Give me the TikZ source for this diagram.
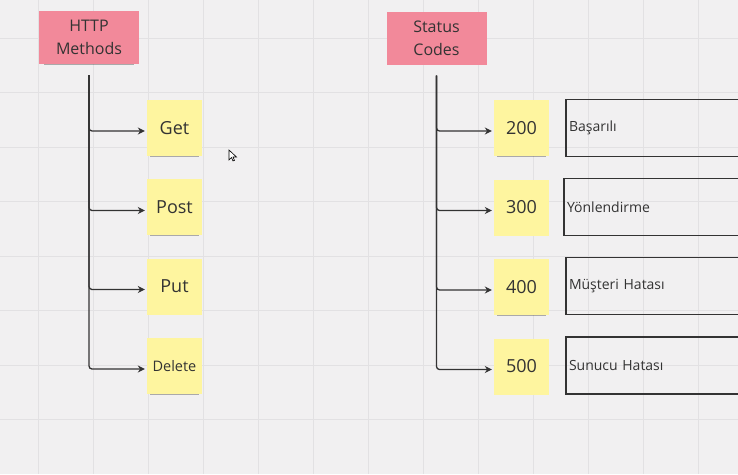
\documentclass[tikz,border=0pt]{standalone}
\usepackage{fontspec}
\setmainfont{Open Sans}
\usepackage{tikz}
\usetikzlibrary{arrows.meta,shadows,positioning}
\definecolor{board}{HTML}{F1F0F1}
\definecolor{gridline}{HTML}{E2E1E3}
\definecolor{notepink}{HTML}{F2899A}
\definecolor{noteyellow}{HTML}{FEF59F}
\definecolor{ink}{HTML}{333333}
\tikzset{
	>={Stealth[length=7pt,width=7pt]},
	sticky/.style={
		fill=noteyellow,
		text=ink,
		minimum width=55pt,
		minimum height=56pt,
		inner sep=0pt,
		font=\fontsize{18}{22}\selectfont,
		drop shadow={shadow xshift=0pt,shadow yshift=-4pt,shadow scale=0.9,
			fill=black!85,opacity=0.35}
	},
	header/.style={
		sticky,
		fill=notepink,
		minimum width=100pt,
		minimum height=53pt,
		align=center,
		font=\fontsize{16}{23}\selectfont
	}
}

\begin{document}
\begin{tikzpicture}[x=1pt,y=-1pt]
  \tikzset{
    descbox/.style={draw=ink, line width=1.1pt, minimum height=57pt,
          text width=194pt, inner xsep=3pt, align=left, text=ink,
          font=\fontsize{14}{17}\selectfont},
    conn/.style={draw=ink, line width=1.3pt, ->, rounded corners=3pt,
          shorten >=2pt}
  }
  \clip (0,0) rectangle (738,474);
  \fill[board] (0,0) rectangle (738,474);
  \foreach \gx in {38,93,...,698}
    \draw[gridline,line width=0.8pt] (\gx,0) -- (\gx,474);
  \foreach \gy in {38,92.5,...,420}
    \draw[gridline,line width=0.8pt] (0,\gy) -- (738,\gy);

  \node[header] (http) at (89,37.5) {HTTP\\Methods};
  \node[header] (status) at (436.5,38) {Status\\Codes};

  \node[sticky] (get) at (174.5,128) {Get};
  \node[sticky] (post) at (174.5,207) {Post};
  \node[sticky] (put) at (174.5,286.5) {Put};
  \node[sticky,font=\fontsize{14.5}{17}\selectfont] (delete) at (174.5,366) {Delete};

  \node[sticky] (c200) at (521.5,128) {200};
  \node[sticky] (c300) at (521.5,207.5) {300};
  \node[sticky] (c400) at (521.5,287) {400};
  \node[sticky] (c500) at (521.5,366.5) {500};

  \node[descbox] (d200) at (666,128) {Başarılı};
  \node[descbox] (d300) at (664,207) {Yönlendirme};
  \node[descbox] (d400) at (666,286) {Müşteri Hatası};
  \node[descbox] (d500) at (666,365.5) {Sunucu Hatası};

  \coordinate (mtop) at ([yshift=-11pt]http.south);
  \coordinate (stop) at ([yshift=-11pt]status.south);

  \draw[conn] (mtop) |- ([yshift=-3pt]get.west);
  \draw[conn] (mtop) |- ([yshift=-3.5pt]post.west);
  \draw[conn] (mtop) |- ([yshift=-3pt]put.west);
  \draw[conn] (mtop) |- ([yshift=-3pt]delete.west);

  \draw[conn] (stop) |- ([yshift=-3pt]c200.west);
  \draw[conn] (stop) |- ([yshift=-3pt]c300.west);
  \draw[conn] (stop) |- ([yshift=-3pt]c400.west);
  \draw[conn] (stop) |- ([yshift=-3pt]c500.west);

  %cursor
  \filldraw[fill=white,draw=black,line width=0.6pt] (229,150) -- (229,160)
    -- (231.5,157.5) -- (233,161) -- (234.5,160.3) -- (233,157) -- (236.5,157) -- cycle;
\end{tikzpicture}
\end{document}
